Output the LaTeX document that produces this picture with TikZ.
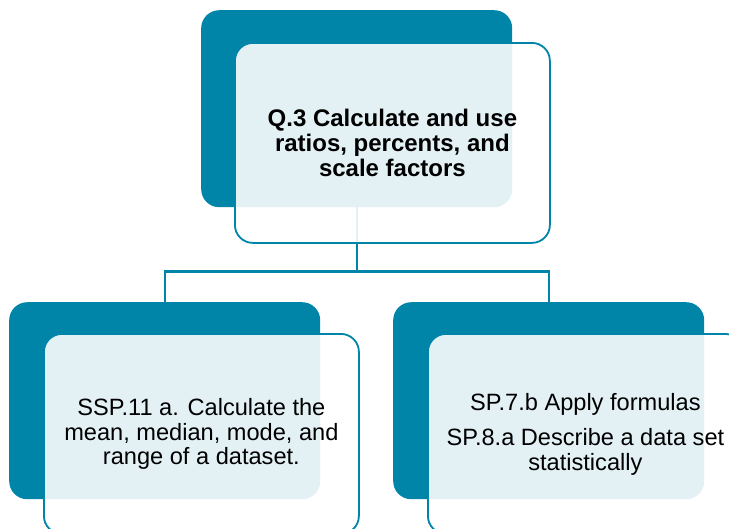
\documentclass[tikz,border=0pt]{standalone}
\usepackage{fontspec}
\setmainfont{Liberation Sans}
\definecolor{tealdark}{RGB}{0,132,168}
\tikzset{
  backbox/.style={fill=tealdark, rounded corners=18pt, minimum width=311pt,
    minimum height=197pt, inner sep=0pt, anchor=north west},
  frontbox/.style={draw=tealdark, line width=1.8pt, fill=white, fill opacity=0.89,
    text opacity=1, rounded corners=18pt, minimum width=315pt, minimum height=200pt,
    inner sep=0pt, anchor=north west, align=center,
    font=\fontsize{23.6}{24.5}\selectfont},
  link/.style={draw=tealdark, line width=2.2pt}
}
\begin{document}
\begin{tikzpicture}[x=1pt, y=-1pt]
  \useasboundingbox (0,0) rectangle (729,528);
  \clip (0,0) rectangle (729,528);

  % dark back panels
  \node[backbox] (topback)   at (201,10)  {};
  \node[backbox] (leftback)  at (9,302)   {};
  \node[backbox] (rightback) at (393,302) {};

  % tree connectors
  \draw[link] (topback.south) -- ++(0,64) coordinate (hub);
  \draw[link] (leftback.north) |- (hub) -| (rightback.north);

  % translucent text panels
  \node[frontbox, font=\fontsize{24}{25}\selectfont\bfseries] (top) at (234,42)
    {Q.3 Calculate and use\\ ratios, percents, and\\ scale factors};
  \node[frontbox] (left) at (43,333)
    {SSP.11 a. Calculate the\\ mean, median, mode, and\\ range of a dataset.};
  \node[frontbox] (right) at (427,333)
    {SP.7.b Apply formulas\\[11pt] SP.8.a Describe a data set\\ statistically};
\end{tikzpicture}
\end{document}
